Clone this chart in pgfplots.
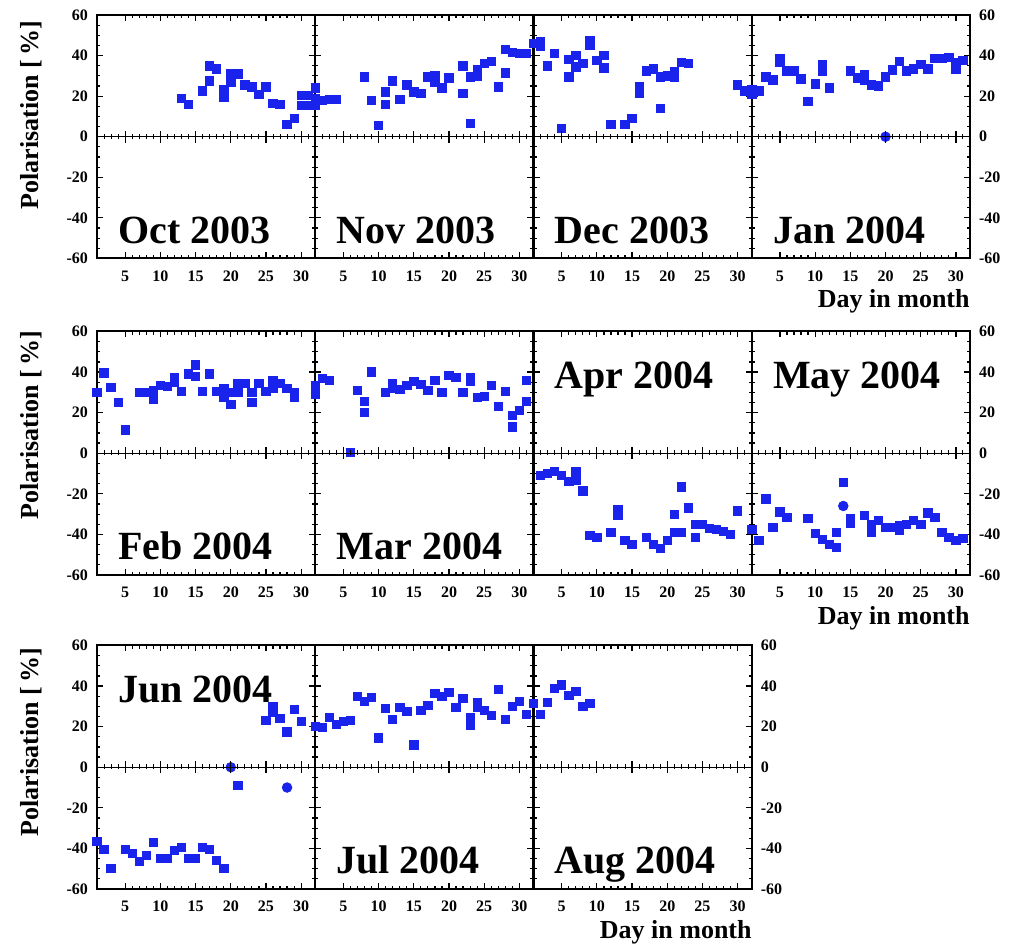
\documentclass[border=0pt]{standalone}
\usepackage{fontspec}
\setmainfont{Liberation Serif}
\usepackage{pgfplots}
\pgfplotsset{compat=1.18}
\definecolor{polblue}{RGB}{25,35,235}

\newcommand\monthfont{\fontsize{20}{22}\selectfont\bfseries}
\newcommand\labfont{\fontsize{13}{14}\selectfont\bfseries}

\pgfplotsset{
  panel/.style={
    scale only axis, width=109.125pt, height=121.75pt,
    anchor=south west, clip=false,
    xmin=1, xmax=32, ymin=-60, ymax=60,
    xtick={5,10,...,30}, minor x tick num=4,
    ytick={-60,-40,...,60}, minor y tick num=3,
    tick align=inside,
    xticklabel pos=lower, xtick pos=both,
    major tick length=3pt, minor tick length=1.6pt,
    every tick/.style={black, line width=0.6pt},
    axis line style={line width=1pt},
    /pgf/number format/assume math mode=true,
    tick label style={font=\fontsize{8}{9}\selectfont\bfseries},
    xticklabel style={yshift=-2.5pt},
    after end axis/.code={
      \draw[line width=0.7pt] (axis cs:1,0) -- (axis cs:32,0);
      \foreach \d in {2,...,31}
        \draw[line width=0.5pt] ([yshift=-1pt]axis cs:\d,0) -- ([yshift=1.6pt]axis cs:\d,0);
      \foreach \d in {5,10,...,30}
        \draw[line width=0.6pt] ([yshift=-3pt]axis cs:\d,0) -- ([yshift=3pt]axis cs:\d,0);
    },
  },
  midpanel/.style={panel, yticklabels={}, ytick pos=both},
  leftpanel/.style={panel, yticklabel pos=left, ytick pos=both,
    yticklabel style={xshift=-1pt}},
  rightpanel/.style={panel, yticklabel pos=right, ytick pos=both,
    yticklabel style={xshift=1pt}},
  sq/.style={only marks, mark=square*, mark size=2.1pt, color=polblue},
  dot/.style={only marks, mark=*, mark size=2.4pt, color=polblue},
}
\newcommand\monthlabel[1]{\node[anchor=base west, font=\monthfont, inner sep=0pt] at (rel axis cs:0.096,0.062) {#1};}
\newcommand\monthlabeltop[1]{\node[anchor=base west, font=\monthfont, inner sep=0pt] at (rel axis cs:0.096,0.765) {#1};}

\begin{document}
\begin{tikzpicture}
\useasboundingbox (0,0) rectangle (509.5pt,472.5pt);

% ---------------- row 1 ----------------
\begin{axis}[leftpanel, at={(48.5pt,343.25pt)}]
\addplot[sq] table {
13 19
14 16
16 22.5
17 27.5
17 35
18 33.5
19 23
19 19.5
20 27
20 31
21 31
22 25.5
23 24.5
24 21
25 24.5
26 16.5
27 16
28 6
29 9
30 20.5
30 15.5
31 20.5
31 15.5
};
\monthlabel{Oct 2003}
\end{axis}

\begin{axis}[midpanel, at={(157.625pt,343.25pt)}]
\addplot[sq] table {
1 19
1 24
1 15.5
2 18
3 18.5
4 18.5
8 29.5
9 18
10 5.5
11 22
11 16
12 27.5
13 18.5
14 25.5
15 22
16 21.5
17 29.5
18 30
18 27
19 24
20 29
22 35
22 21.5
23 6.5
23 29.5
24 30
24 33
25 36
26 37
27 24.5
28 43
28 31.5
29 41.5
30 41
31 41
};
\monthlabel{Nov 2003}
\end{axis}

\begin{axis}[midpanel, at={(266.75pt,343.25pt)}]
\addplot[sq] table {
1 46
2 47
2 44.5
3 35
4 41
5 4
6 38
6 29.5
7 40
7 34.5
8 36
9 47.5
9 45
10 37.5
11 40
11 34
12 6
14 6
15 9
16 24.5
16 21.5
17 32.5
18 33.5
19 14
19 29.5
20 30
21 29.5
21 32
22 36.5
23 36
30 25.5
31 22.5
};
\monthlabel{Dec 2003}
\end{axis}

\begin{axis}[rightpanel, at={(375.875pt,343.25pt)}]
\addplot[sq] table {
1 21
1 23
2 22.5
3 29.5
4 28
5 38.5
5 36.5
6 32.5
7 32.5
8 28.5
9 17.5
10 26
11 35.5
11 32.5
12 24
15 32.5
16 29
17 30.5
17 28
18 25.5
19 25
20 29.5
21 33
22 37
23 32.5
24 33.5
25 35.5
26 33.5
27 38.5
28 38.5
29 39
30 33.5
30 36.5
31 37.5
};
\addplot[dot] table {
20 0
};
\monthlabel{Jan 2004}
\end{axis}

% ---------------- row 2 ----------------
\begin{axis}[leftpanel, at={(48.5pt,185pt)}]
\addplot[sq] table {
1 30
2 39.5
3 32.5
4 25
5 11.5
7 30
8 30
9 31
9 26.5
10 33.5
11 33
12 37.5
12 35
13 30.5
14 39
15 43.5
15 38
16 30.5
17 39
18 30.5
19 32
19 27.5
20 24
20 30
21 30
21 34.5
22 34.5
23 25
23 30
24 34.5
25 30.5
26 36
26 32
27 34.5
28 32
29 30
29 27.5
};
\monthlabel{Feb 2004}
\end{axis}

\begin{axis}[midpanel, at={(157.625pt,185pt)}]
\addplot[sq] table {
1 29
1 33.5
2 37
3 36
6 0.5
7 31
8 25.5
8 20
9 40
11 30
12 34.5
12 32
13 31.5
14 33.5
15 35.5
16 34
17 31
18 36
19 30
20 38.5
21 37.5
22 30
23 37.5
23 35.5
24 27.5
25 28
26 33.5
27 23
28 30.5
29 18.5
29 13
30 21
31 25.5
31 36
};
\monthlabel{Mar 2004}
\end{axis}

\begin{axis}[midpanel, at={(266.75pt,185pt)}]
\addplot[sq] table {
2 -11
3 -10
4 -9
5 -11
6 -14
7 -9
7 -13.5
8 -18.5
9 -40.5
10 -41.5
12 -39
13 -28
13 -30.5
14 -43
15 -45
17 -41.5
18 -45
19 -47
20 -43
21 -30
21 -39
22 -39
22 -16.5
23 -27
24 -35
24 -41.5
25 -35
26 -37
27 -37.5
28 -38.5
29 -40
30 -28.5
};
\monthlabeltop{Apr 2004}
\end{axis}

\begin{axis}[rightpanel, at={(375.875pt,185pt)}]
\addplot[sq] table {
1 -37.5
2 -43
3 -22.5
4 -36.5
5 -29
6 -31.5
9 -32
10 -39.5
11 -42.5
12 -45
13 -46.5
13 -39
14 -14.5
15 -32
15 -34.5
17 -30.5
18 -39
18 -35
19 -33
20 -36.5
21 -36.5
22 -38
22 -35.5
23 -35
24 -33
25 -35
26 -29.5
27 -31.5
28 -39
29 -41.5
30 -43
31 -42
};
\addplot[dot] table {
14 -26
};
\monthlabeltop{May 2004}
\end{axis}

% ---------------- row 3 ----------------
\begin{axis}[leftpanel, at={(48.5pt,28pt)}]
\addplot[sq] table {
1 -36.5
2 -40.5
3 -50
5 -40.5
6 -42.5
7 -46.5
8 -43.5
9 -37
10 -45
11 -45
12 -41
13 -39.5
14 -45
15 -45
16 -39.5
17 -40.5
18 -46
19 -50
21 -9
25 23
26 30
26 27
27 24
28 17.5
29 28.5
30 22.5
};
\addplot[dot] table {
20 0
28 -10
};
\monthlabeltop{Jun 2004}
\end{axis}

\begin{axis}[midpanel, at={(157.625pt,28pt)}]
\addplot[sq] table {
1 20
2 19.5
3 24.5
4 21
5 22.5
6 23
7 35
8 32.5
9 34.5
10 14.5
11 29
12 23.5
13 29.5
14 27.5
15 11
16 28
17 30.5
18 36.5
19 35
20 37
21 29.5
22 34
23 24.5
23 20.5
24 32
24 29.5
25 28
26 25.5
27 38.5
28 23.5
29 30
30 32.5
31 26
};
\monthlabel{Jul 2004}
\end{axis}

\begin{axis}[rightpanel, at={(266.75pt,28pt)}]
\addplot[sq] table {
1 31.5
2 26
3 32
4 39
5 40.5
6 35.5
7 37.5
8 30
9 31.5
};
\monthlabel{Aug 2004}
\end{axis}

% axis titles
\foreach \yc in {415,260,101.5}
  \node[rotate=90, font=\labfont] at (15.75pt,\yc pt) {Polarisation [\,\%]};
\node[anchor=base east, font=\labfont, inner sep=0pt] at (485pt,318.5pt) {Day in month};
\node[anchor=base east, font=\labfont, inner sep=0pt] at (485pt,160pt) {Day in month};
\node[anchor=base east, font=\labfont, inner sep=0pt] at (376pt,3pt) {Day in month};
\end{tikzpicture}
\end{document}
